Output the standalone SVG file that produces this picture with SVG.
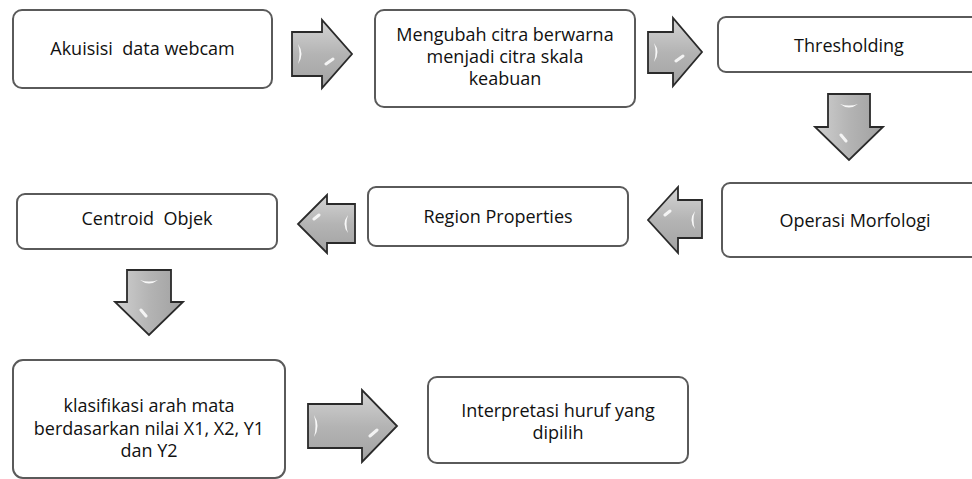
<svg xmlns="http://www.w3.org/2000/svg" width="972" height="479" viewBox="0 0 972 479">
<defs>
<linearGradient id="gH" x1="0" y1="0" x2="0" y2="1">
<stop offset="0" stop-color="#d4d4d4"/>
<stop offset="0.5" stop-color="#b4b4b4"/>
<stop offset="1" stop-color="#a2a2a2"/>
</linearGradient>
<linearGradient id="gV" x1="0" y1="0" x2="1" y2="0">
<stop offset="0" stop-color="#d0d0d0"/>
<stop offset="0.5" stop-color="#b4b4b4"/>
<stop offset="1" stop-color="#a0a0a0"/>
</linearGradient>
</defs>
<style>
.box{fill:#ffffff;stroke:#5a5a5a;stroke-width:2}
.t{font-family:"Open Sans","Noto Sans",sans-serif;font-size:18px;fill:#111;text-anchor:middle;white-space:pre}
.ah{fill:url(#gH);stroke:#2a2a2a;stroke-width:1.8;stroke-linejoin:miter}
.av{fill:url(#gV);stroke:#2a2a2a;stroke-width:1.8;stroke-linejoin:miter}
.hl{fill:#ffffff;opacity:0.9}
.hd{stroke:#ffffff;stroke-width:3;stroke-linecap:round;opacity:0.85}
</style>
<rect width="972" height="479" fill="#ffffff"/>

<g id="n1">
<rect class="box" x="13" y="10" width="259" height="78" rx="9"/>
<text class="t" x="142.5" y="55" xml:space="preserve">Akuisisi  data webcam</text>
</g>
<g id="n2">
<rect class="box" x="375" y="10" width="260" height="97" rx="9"/>
<text class="t" x="505" y="41">Mengubah citra berwarna</text>
<text class="t" x="505" y="63">menjadi citra skala</text>
<text class="t" x="505" y="85">keabuan</text>
</g>
<g id="n3">
<rect class="box" x="718" y="17" width="266" height="55" rx="8"/>
<text class="t" x="849" y="52">Thresholding</text>
</g>
<g id="n4">
<rect class="box" x="722" y="183" width="266" height="74" rx="8"/>
<text class="t" x="855" y="227">Operasi Morfologi</text>
</g>
<g id="n5">
<rect class="box" x="368" y="187" width="260" height="59" rx="8"/>
<text class="t" x="498" y="223">Region Properties</text>
</g>
<g id="n6">
<rect class="box" x="17" y="194" width="260" height="55" rx="8"/>
<text class="t" x="147" y="225" xml:space="preserve">Centroid  Objek</text>
</g>
<g id="n7">
<rect class="box" x="13" y="360" width="272" height="118" rx="10"/>
<text class="t" x="149" y="412">klasifikasi arah mata</text>
<text class="t" x="149" y="435">berdasarkan nilai X1, X2, Y1</text>
<text class="t" x="149" y="457">dan Y2</text>
</g>
<g id="n8">
<rect class="box" x="428" y="377" width="260" height="86" rx="9"/>
<text class="t" x="558" y="417">Interpretasi huruf yang</text>
<text class="t" x="558" y="439">dipilih</text>
</g>

<g id="connectors">
<g>
<path class="ah" d="M292,32 H322 V20 L352,54 L322,88 V76 H292 Z"/>
<path class="hl" d="M298,44 Q305,54 298,64 Q301,54 298,44 Z"/>
<line class="hd" x1="326" y1="64" x2="333" y2="59"/>
</g>
<g>
<path class="ah" d="M648,32 H673 V18 L702,52 L673,86 V73 H648 Z"/>
<path class="hl" d="M654,43 Q661,52 654,62 Q657,52 654,43 Z"/>
<line class="hd" x1="676" y1="61" x2="683" y2="56"/>
</g>
<g>
<path class="av" d="M828,94 H870 V127 H883 L849,160 L815,127 H828 Z"/>
<path class="hl" d="M840,104 Q849,111 858,104 Q849,107 840,104 Z"/>
<line class="hd" x1="841" y1="135" x2="846" y2="141"/>
</g>
<g>
<path class="ah" d="M702,200 H678 V187 L648,220 L678,253 V238 H702 Z"/>
<path class="hl" d="M695,211 Q688,220 695,229 Q692,220 695,211 Z"/>
<line class="hd" x1="665" y1="215" x2="670" y2="211"/>
</g>
<g>
<path class="ah" d="M355,204 H327 V195 L298,224 L327,253 V243 H355 Z"/>
<path class="hl" d="M348,215 Q341,224 348,233 Q345,224 348,215 Z"/>
<line class="hd" x1="314" y1="219" x2="319" y2="215"/>
</g>
<g>
<path class="av" d="M127,270 H171 V302 H183 L149,335 L115,302 H127 Z"/>
<path class="hl" d="M140,280 Q149,287 158,280 Q149,283 140,280 Z"/>
<line class="hd" x1="141" y1="310" x2="146" y2="316"/>
</g>
<g>
<path class="ah" d="M308,404 H362 V390 L397,426 L362,462 V448 H308 Z"/>
<path class="hl" d="M314,415 Q321,426 314,437 Q317,426 314,415 Z"/>
<line class="hd" x1="370" y1="436" x2="377" y2="430"/>
</g>
</g>
</svg>
